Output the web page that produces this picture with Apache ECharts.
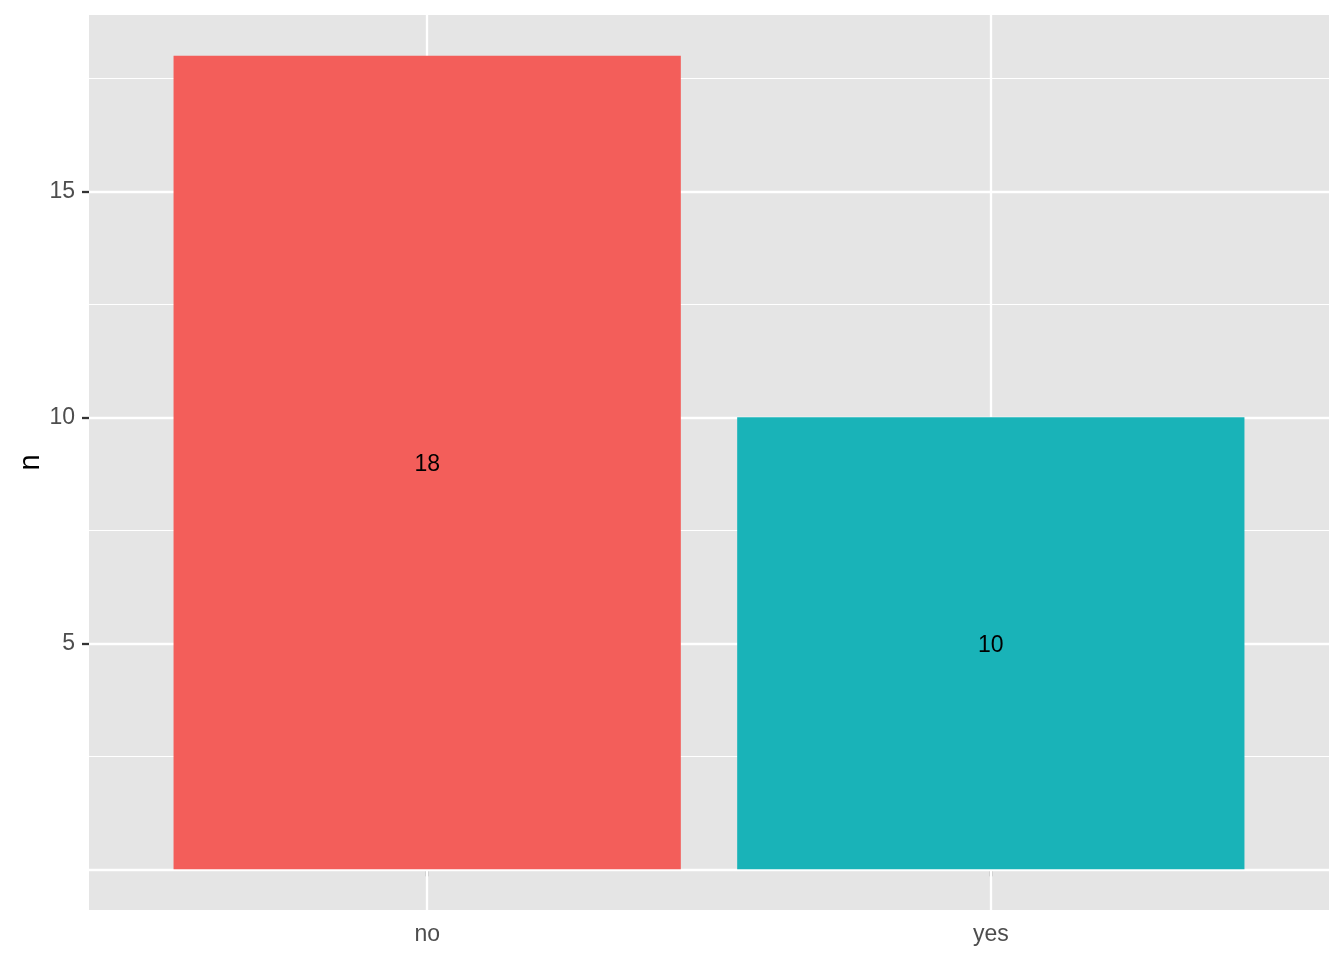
<!DOCTYPE html>
<html>
<head>
<meta charset="utf-8">
<script src="https://cdn.jsdelivr.net/npm/echarts@6/dist/echarts.min.js"></script>
<style>
html, body { margin: 0; background: #fff; }
#main { width: 1344px; height: 960px; }
</style>
</head>
<body>
<div id="main"></div>
<script>
const categories = ['no', 'yes'];
const counts = [18, 10];
const barColors = ['#F35E5A', '#19B3B8'];
const yMajorBreaks = [0, 5, 10, 15];
const yMinorBreaks = [2.5, 7.5, 12.5, 17.5];
const yTickLabels = [5, 10, 15];
const xPositions = [1, 2];

const font = 'Liberation Sans, Arial, Helvetica, sans-serif';
const chart = echarts.init(document.getElementById('main'));

// grid lines go in a dummy series so the bars sit on top of them
const gridLines = []
  .concat(yMinorBreaks.map(v => ({ yAxis: v, lineStyle: { width: 1.1 } })))
  .concat(yMajorBreaks.map(v => ({ yAxis: v, lineStyle: { width: 2.3 } })))
  .concat(xPositions.map(v => ({ xAxis: v, lineStyle: { width: 2.3 } })));

let option = {
  animation: false,
  grid: {
    left: 89, right: 15, top: 15, bottom: 50,
    containLabel: false,
    outerBoundsMode: 'none',
    show: true, backgroundColor: '#E5E5E5', borderWidth: 0
  },
  xAxis: {
    type: 'value',
    min: 0.4,
    max: 2.6,
    axisLine: { show: false },
    splitLine: { show: false },
    axisTick: {
      customValues: xPositions,
      length: 7,
      lineStyle: { color: '#333', width: 2.3 }
    },
    axisLabel: {
      customValues: xPositions,
      formatter: v => categories[Math.round(v) - 1],
      margin: 13,
      fontSize: 23,
      fontFamily: font,
      color: '#4D4D4D'
    }
  },
  yAxis: {
    type: 'value',
    min: -0.9,
    max: 18.9,
    name: 'n',
    nameLocation: 'middle',
    nameRotate: 90,
    nameGap: 44,
    nameMoveOverlap: false,
    nameTextStyle: { fontSize: 29, fontFamily: font, color: '#000' },
    axisLine: { show: false },
    splitLine: { show: false },
    axisTick: {
      customValues: yTickLabels,
      length: 7,
      lineStyle: { color: '#333', width: 2.3 }
    },
    axisLabel: {
      customValues: yTickLabels,
      margin: 14,
      fontSize: 23,
      fontFamily: font,
      color: '#4D4D4D',
      padding: [2, 0, 0, 0]
    }
  },
  series: [
    {
      type: 'line',
      z: 1,
      data: [],
      silent: true,
      markLine: {
        z: 1,
        silent: true,
        symbol: 'none',
        label: { show: false },
        lineStyle: { color: '#FFFFFF', type: 'solid' },
        data: gridLines
      }
    },
    {
      type: 'custom',
      z: 3,
      data: counts.map((n, i) => [xPositions[i], n]),
      renderItem: function (params, api) {
        const x = api.value(0), n = api.value(1);
        const topLeft = api.coord([x - 0.45, n]);
        const bottomRight = api.coord([x + 0.45, 0]);
        const mid = api.coord([x, n / 2]);
        return {
          type: 'group',
          children: [
            {
              type: 'rect',
              shape: {
                x: topLeft[0], y: topLeft[1],
                width: bottomRight[0] - topLeft[0],
                height: bottomRight[1] - topLeft[1]
              },
              style: { fill: barColors[params.dataIndex] }
            },
            {
              type: 'text',
              x: mid[0], y: mid[1] + 2,
              style: {
                text: String(n),
                fontSize: 23,
                fontFamily: font,
                fill: '#000',
                align: 'center',
                verticalAlign: 'middle'
              }
            }
          ]
        };
      }
    }
  ]
};
chart.setOption(option);
window.addEventListener('resize', chart.resize);
</script>
</body>
</html>
